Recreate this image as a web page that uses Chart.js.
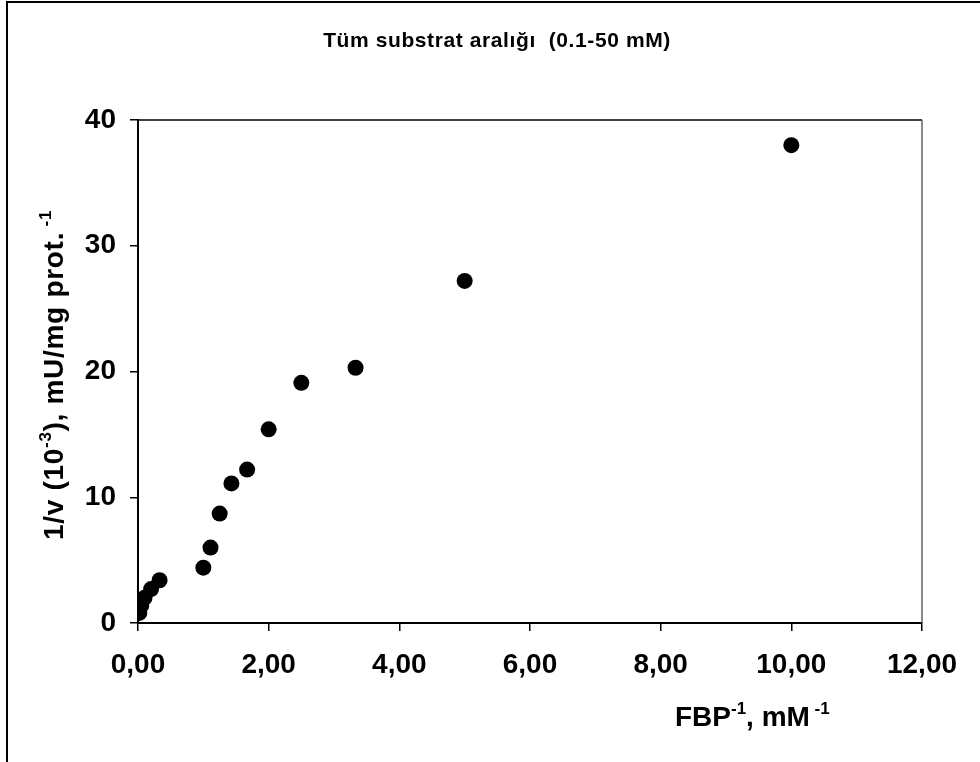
<!DOCTYPE html>
<html>
<head>
<meta charset="utf-8">
<script src="https://cdn.jsdelivr.net/npm/chart.js@4/dist/chart.umd.min.js"></script>
<style>
  html, body { margin: 0; padding: 0; background: #fff; }
  canvas { display: block; }
</style>
</head>
<body>
<canvas id="c" width="980" height="762"></canvas>
<script>
// data: 1/[FBP] (mM^-1) vs 1/v
const invS = [10, 5, 3.33, 2.5, 2.0, 1.67, 1.43, 1.25, 1.11, 1.0, 0.33, 0.2, 0.1, 0.05, 0.02];
const invV = [38.0, 27.2, 20.3, 19.1, 15.4, 12.2, 11.1, 8.7, 6.0, 4.4, 3.4, 2.7, 2.0, 1.4, 0.8];

const chartTitle = 'Tüm substrat aralığı  (0.1-50 mM)';
const xTitle = [['FBP'], ['-1', true], [', mM'], [' -1', true]];
const yTitle = [['1/v (10'], ['-3', true], ['), mU/mg prot.'], [' -1', true]];

const FONT = '"Liberation Sans", Arial, sans-serif';

// draws text with superscript pieces, starting at x (baseline y)
function drawRich(ctx, parts, x, y, size) {
  let cx = x;
  parts.forEach(([t, sup]) => {
    ctx.font = 'bold ' + (sup ? Math.round(size * 0.62) : size) + 'px ' + FONT;
    ctx.fillText(t, cx, sup ? y - size * 0.42 : y);
    cx += ctx.measureText(t).width;
  });
}
function richWidth(ctx, parts, size) {
  let w = 0;
  parts.forEach(([t, sup]) => {
    ctx.font = 'bold ' + (sup ? Math.round(size * 0.62) : size) + 'px ' + FONT;
    w += ctx.measureText(t).width;
  });
  return w;
}

const decor = {
  id: 'decor',
  afterDraw(chart) {
    const {ctx, chartArea: a} = chart;
    ctx.save();
    // outer figure edge (top and left only)
    ctx.strokeStyle = '#000';
    ctx.lineWidth = 2;
    ctx.beginPath();
    ctx.moveTo(7, 762); ctx.lineTo(7, 2); ctx.lineTo(980, 2);
    ctx.stroke();
    // plot frame top / right
    ctx.lineWidth = 1.5;
    ctx.beginPath();
    ctx.moveTo(a.left, a.top); ctx.lineTo(a.right, a.top);
    ctx.stroke();
    ctx.strokeStyle = '#666';
    ctx.beginPath();
    ctx.moveTo(a.right, a.top); ctx.lineTo(a.right, a.bottom);
    ctx.stroke();

    ctx.fillStyle = '#000';
    ctx.textBaseline = 'alphabetic';
    ctx.textAlign = 'left';
    // title
    ctx.font = 'bold 21px ' + FONT;
    ctx.letterSpacing = '0.6px';
    const tw = ctx.measureText(chartTitle).width;
    ctx.fillText(chartTitle, 497 - tw / 2, 47);
    ctx.letterSpacing = '0px';
    // x axis title
    drawRich(ctx, xTitle, 675, 726, 28);
    // y axis title, rotated
    ctx.letterSpacing = '0.7px';
    const yw = richWidth(ctx, yTitle, 28);
    ctx.translate(63, 375);
    ctx.rotate(-Math.PI / 2);
    drawRich(ctx, yTitle, -yw / 2, 0, 28);
    ctx.restore();
  }
};

const tickFont = {family: FONT, size: 28, weight: 'bold'};

new Chart(document.getElementById('c'), {
  type: 'scatter',
  data: {
    datasets: [{
      data: invS.map((x, i) => ({x: x, y: invV[i]})),
      backgroundColor: '#000',
      borderWidth: 0,
      pointRadius: 8,
      pointHoverRadius: 8
    }]
  },
  options: {
    responsive: false,
    animation: false,
    devicePixelRatio: 1,
    layout: {padding: {top: 120, right: 58, left: 0, bottom: 0}},
    plugins: {legend: {display: false}, tooltip: {enabled: false}, title: {display: false}},
    scales: {
      x: {
        type: 'linear',
        min: 0, max: 12,
        afterFit: (s) => { s.height = 139; },
        ticks: {
          stepSize: 2,
          color: '#000',
          font: tickFont,
          padding: 17,
          maxRotation: 0,
          callback: (v) => v.toFixed(2).replace('.', ',')
        },
        grid: {drawOnChartArea: false, tickLength: 8, color: '#000', lineWidth: 1.5},
        border: {color: '#000', width: 2}
      },
      y: {
        min: 0, max: 40,
        afterFit: (s) => { s.width = 138; },
        ticks: {stepSize: 10, color: '#000', font: tickFont, padding: 14},
        grid: {drawOnChartArea: false, tickLength: 8, color: '#000', lineWidth: 1.5},
        border: {color: '#000', width: 2}
      }
    }
  },
  plugins: [decor]
});
</script>
</body>
</html>
